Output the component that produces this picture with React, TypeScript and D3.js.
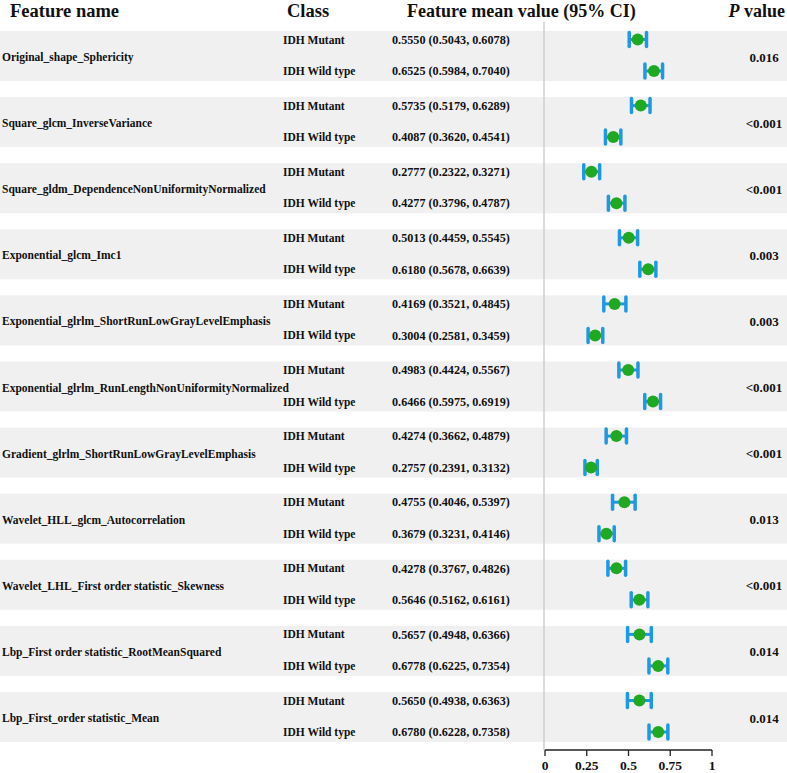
import React from "react";
import * as d3 from "d3";

const features = [
  "Original_shape_Sphericity",
  "Square_glcm_InverseVariance",
  "Square_gldm_DependenceNonUniformityNormalized",
  "Exponential_glcm_Imc1",
  "Exponential_glrlm_ShortRunLowGrayLevelEmphasis",
  "Exponential_glrlm_RunLengthNonUniformityNormalized",
  "Gradient_glrlm_ShortRunLowGrayLevelEmphasis",
  "Wavelet_HLL_glcm_Autocorrelation",
  "Wavelet_LHL_First order statistic_Skewness",
  "Lbp_First order statistic_RootMeanSquared",
  "Lbp_First_order statistic_Mean",
];
const classes = ["IDH Mutant", "IDH Wild type"];
const mutantMean = [0.555, 0.5735, 0.2777, 0.5013, 0.4169, 0.4983, 0.4274, 0.4755, 0.4278, 0.5657, 0.565];
const mutantLo = [0.5043, 0.5179, 0.2322, 0.4459, 0.3521, 0.4424, 0.3662, 0.4046, 0.3767, 0.4948, 0.4938];
const mutantHi = [0.6078, 0.6289, 0.3271, 0.5545, 0.4845, 0.5567, 0.4879, 0.5397, 0.4826, 0.6366, 0.6363];
const wildMean = [0.6525, 0.4087, 0.4277, 0.618, 0.3004, 0.6466, 0.2757, 0.3679, 0.5646, 0.6778, 0.678];
const wildLo = [0.5984, 0.362, 0.3796, 0.5678, 0.2581, 0.5975, 0.2391, 0.3231, 0.5162, 0.6225, 0.6228];
const wildHi = [0.704, 0.4541, 0.4787, 0.6639, 0.3459, 0.6919, 0.3132, 0.4146, 0.6161, 0.7354, 0.7358];
const pValues = ["0.016", "<0.001", "<0.001", "0.003", "0.003", "<0.001", "<0.001", "0.013", "<0.001", "0.014", "0.014"];
const ticks = [0, 0.25, 0.5, 0.75, 1];
const tickLabels = ["0", "0.25", "0.5", "0.75", "1"];

const W = 787;
const H = 773;
const FONT = "'Liberation Serif', 'Times New Roman', serif";
const GREEN = "#21a821";
const BLUE = "#1f98e4";

export default function App() {
  const x = d3.scaleLinear().domain([0, 1]).range([545, 712]);
  const y = d3.scaleLinear().domain([0, features.length]).range([31, 31 + 66.1 * features.length]);
  const axisY = 750;
  const fmt = d3.format(".4f");

  const rows = features.map((f, i) => {
    const top = y(i);
    const data = [
      { m: mutantMean[i], lo: mutantLo[i], hi: mutantHi[i], cy: top + 8.5, cls: classes[0] },
      { m: wildMean[i], lo: wildLo[i], hi: wildHi[i], cy: top + 40, cls: classes[1] },
    ];
    return (
      <g key={f}>
        <rect x={0} y={top} width={W} height={50} fill="#f0f0f0" />
        <text x={2} y={top + 26} dy="0.35em" fontSize={11.5} fontWeight="bold">{f}</text>
        <text x={764} y={top + 26} dy="0.35em" fontSize={13} fontWeight="bold" textAnchor="middle">{pValues[i]}</text>
        {data.map((d, j) => (
          <g key={j}>
            <text x={283} y={d.cy} dy="0.35em" fontSize={11.5} fontWeight="bold">{d.cls}</text>
            <text x={392} y={d.cy} dy="0.35em" fontSize={12.2} fontWeight="bold">
              {`${fmt(d.m)} (${fmt(d.lo)}, ${fmt(d.hi)})`}
            </text>
          </g>
        ))}
      </g>
    );
  });

  const marks = features.map((f, i) => {
    const top = y(i);
    const data = [
      { m: mutantMean[i], lo: mutantLo[i], hi: mutantHi[i], cy: top + 8.5 },
      { m: wildMean[i], lo: wildLo[i], hi: wildHi[i], cy: top + 40 },
    ];
    return (
      <g key={f}>
        {data.map((d, j) => (
          <g key={j}>
            <line x1={x(d.lo)} x2={x(d.hi)} y1={d.cy} y2={d.cy} stroke={BLUE} strokeWidth={3} />
            <line x1={x(d.lo)} x2={x(d.lo)} y1={d.cy - 7} y2={d.cy + 7} stroke={BLUE} strokeWidth={3.5} strokeLinecap="round" />
            <line x1={x(d.hi)} x2={x(d.hi)} y1={d.cy - 7} y2={d.cy + 7} stroke={BLUE} strokeWidth={3.5} strokeLinecap="round" />
            <circle cx={x(d.m)} cy={d.cy} r={6} fill={GREEN} />
          </g>
        ))}
      </g>
    );
  });

  return (
    <div style={{ position: "absolute", left: 0, top: 0 }}>
      <svg width={W} height={H} style={{ display: "block", fontFamily: FONT }} fill="#111">
        <rect width={W} height={H} fill="#fff" />
        <text x={10} y={17} fontSize={18.5} fontWeight="bold">Feature name</text>
        <text x={287} y={17} fontSize={18.5} fontWeight="bold">Class</text>
        <text x={407} y={17} fontSize={18} fontWeight="bold">Feature mean value (95% CI)</text>
        <text x={785} y={17} fontSize={18} fontWeight="bold" textAnchor="end">
          <tspan fontStyle="italic">P</tspan> value
        </text>
        {rows}
        <line x1={x(0) - 1} x2={x(0) - 1} y1={22} y2={axisY} stroke="#cfcfcf" strokeWidth={1.5} />
        {marks}
        <line x1={x(0)} x2={x(1)} y1={axisY} y2={axisY} stroke="#222" strokeWidth={1.3} />
        {ticks.map((t, k) => (
          <g key={t}>
            <line x1={x(t)} x2={x(t)} y1={axisY} y2={axisY + 6} stroke="#222" strokeWidth={1.3} />
            <text x={x(t)} y={axisY + 20} fontSize={13.5} fontWeight="bold" textAnchor="middle">{tickLabels[k]}</text>
          </g>
        ))}
      </svg>
    </div>
  );
}
